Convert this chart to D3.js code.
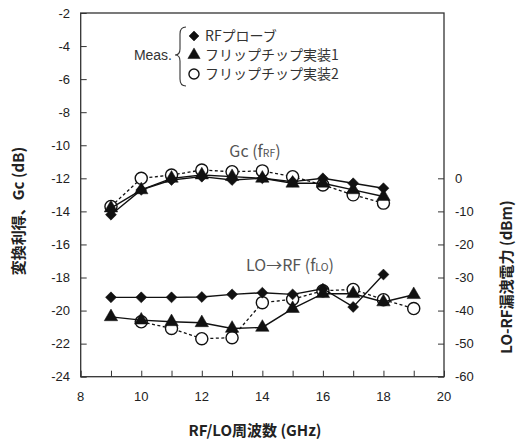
<!DOCTYPE html>
<html>
<head>
<meta charset="utf-8">
<script src="https://cdn.jsdelivr.net/npm/d3@7/dist/d3.min.js"></script>
<style>
  body { margin: 0; background: #fff; }
  text { font-family: "Liberation Sans", Arial, sans-serif; }
  .jp { font-family: "Noto Sans CJK JP", "Liberation Sans", sans-serif; }
</style>
</head>
<body>
<div id="chart"></div>
<script>
// frequencies (GHz)
let freqGc = [9, 10, 11, 12, 13, 14, 15, 16, 17, 18];
let freqLo = [9, 10, 11, 12, 13, 14, 15, 16, 17, 18, 19];

// conversion gain Gc (dB), left axis
let gcProbe = [-14.2, -12.7, -12.1, -11.9, -12.1, -12.0, -12.2, -12.0, -12.3, -12.6];
let gcFlip1 = [-13.8, -12.7, -12.0, -11.8, -11.9, -12.0, -12.3, -12.3, -12.7, -13.1];
let gcFlip2 = [-13.7, -12.0, -11.8, -11.5, -11.6, -11.55, -11.9, -12.4, -13.0, -13.5];

// LO->RF leakage (dBm), right axis (null = not measured)
let loProbe = [-36, -36, -36, -35.9, -35.1, -34.6, -35.1, -33.4, -38.9, -29.1, null];
let loFlip1 = [-41.9, -42.9, -43.4, -43.7, -45.4, -45.1, -39.4, -34.9, -34.9, -37.4, -35.2];
let loFlip2 = [null, -43.4, -45.4, -48.5, -48.2, -37.6, -36.6, -34.0, -33.6, -36.7, -39.4];

let leftTicks = [-2, -4, -6, -8, -10, -12, -14, -16, -18, -20, -22, -24];
let rightTicks = [0, -10, -20, -30, -40, -50, -60];
let xTicks = [8, 10, 12, 14, 16, 18, 20];

let legendNames = ["RFプローブ", "フリップチップ実装1", "フリップチップ実装2"];

let width = 518, height = 443;
let margin = {left: 80.7, right: 74, top: 13, bottom: 66.3};

let svg = d3.select("#chart").append("svg")
    .attr("width", width)
    .attr("height", height);

let x = d3.scaleLinear().domain([8, 20]).range([margin.left, width - margin.right]);
let yL = d3.scaleLinear().domain([-24, -2]).range([height - margin.bottom, margin.top]);
let yR = d3.scaleLinear().domain([-60, 50]).range([height - margin.bottom, margin.top]);

let ink = "#222";

// axes (ticks inward)
svg.append("g")
    .attr("transform", "translate(" + margin.left + ",0)")
    .call(d3.axisRight(yL).tickValues(leftTicks).tickSize(6).tickFormat(""))
    .call(g => g.select(".domain").remove());
svg.append("g")
    .attr("transform", "translate(" + (width - margin.right) + ",0)")
    .call(d3.axisLeft(yR).tickValues(rightTicks).tickSize(6).tickFormat(""))
    .call(g => g.select(".domain").remove());
svg.append("g")
    .attr("transform", "translate(0," + (height - margin.bottom) + ")")
    .call(d3.axisTop(x).ticks(12).tickSize(6).tickFormat(""))
    .call(g => g.select(".domain").remove());
svg.selectAll(".tick line").attr("stroke", "#333").attr("stroke-width", 1);

// frame
svg.append("rect")
    .attr("x", margin.left).attr("y", margin.top)
    .attr("width", width - margin.left - margin.right)
    .attr("height", height - margin.top - margin.bottom)
    .attr("fill", "none").attr("stroke", "#333").attr("stroke-width", 1.3);

// tick labels
svg.append("g").selectAll("text").data(leftTicks).enter().append("text")
    .attr("x", 70).attr("y", d => yL(d)).attr("dy", "0.36em")
    .attr("text-anchor", "end").attr("font-size", 13).attr("fill", ink)
    .text(d => d);
svg.append("g").selectAll("text").data(rightTicks).enter().append("text")
    .attr("x", 455).attr("y", d => yR(d)).attr("dy", "0.36em")
    .attr("font-size", 13).attr("fill", ink)
    .text(d => d);
svg.append("g").selectAll("text").data(xTicks).enter().append("text")
    .attr("x", d => x(d)).attr("y", 396).attr("dy", "0.36em")
    .attr("text-anchor", "middle").attr("font-size", 13).attr("fill", ink)
    .text(d => d);

// axis titles
svg.append("text").attr("class", "jp")
    .attr("transform", "translate(24,211) rotate(-90)")
    .attr("text-anchor", "middle").attr("font-size", 15).attr("font-weight", "bold").attr("fill", ink)
    .text("変換利得、Gc (dB)");
svg.append("text").attr("class", "jp")
    .attr("transform", "translate(512,277) rotate(-90)")
    .attr("text-anchor", "middle").attr("font-size", 15).attr("font-weight", "bold").attr("fill", ink)
    .text("LO-RF漏洩電力 (dBm)");
svg.append("text").attr("class", "jp")
    .attr("x", 255).attr("y", 436)
    .attr("text-anchor", "middle").attr("font-size", 15).attr("font-weight", "bold").attr("fill", ink)
    .text("RF/LO周波数 (GHz)");

// series
function drawSeries(xs, ys, yScale, shape, dashed) {
    let pts = xs.map((f, i) => [f, ys[i]]).filter(d => d[1] != null);
    let line = d3.line().x(d => x(d[0])).y(d => yScale(d[1]));
    svg.append("path")
        .attr("d", line(pts))
        .attr("fill", "none").attr("stroke", "#111")
        .attr("stroke-width", dashed ? 1.3 : 1.4)
        .attr("stroke-dasharray", dashed ? "3,2.5" : null);
    let sym = d3.symbol().type(shape === "diamond" ? d3.symbolSquare : shape === "triangle" ? d3.symbolTriangle : d3.symbolCircle)
        .size(shape === "diamond" ? 60 : shape === "triangle" ? 78 : 115);
    svg.append("g").selectAll("path").data(pts).enter().append("path")
        .attr("d", sym)
        .attr("transform", d => "translate(" + x(d[0]) + "," + yScale(d[1]) + ")" + (shape === "diamond" ? " rotate(45)" : ""))
        .attr("fill", shape === "circle" ? "#fff" : "#111")
        .attr("stroke", "#111").attr("stroke-width", shape === "circle" ? 1.4 : 0.5);
}

drawSeries(freqGc, gcFlip2, yL, "circle", true);
drawSeries(freqGc, gcFlip1, yL, "triangle", false);
drawSeries(freqGc, gcProbe, yL, "diamond", false);
drawSeries(freqLo, loFlip2, yR, "circle", true);
drawSeries(freqLo, loFlip1, yR, "triangle", false);
drawSeries(freqLo, loProbe, yR, "diamond", false);

// curve labels
let gcLabel = svg.append("text").attr("class", "jp")
    .attr("x", 255).attr("y", 157).attr("text-anchor", "middle")
    .attr("font-size", 16).attr("fill", "#555");
gcLabel.append("tspan").text("Gc (f");
gcLabel.append("tspan").attr("font-size", 10.5).text("RF");
gcLabel.append("tspan").text(")");

let loLabel = svg.append("text").attr("class", "jp")
    .attr("x", 290).attr("y", 271).attr("text-anchor", "middle")
    .attr("font-size", 16).attr("fill", "#555");
loLabel.append("tspan").text("LO→RF (f");
loLabel.append("tspan").attr("font-size", 10.5).text("LO");
loLabel.append("tspan").text(")");

// legend
let legendY = [36, 55, 74];
let legendShapes = [d3.symbolSquare, d3.symbolTriangle, d3.symbolCircle];
svg.append("text")
    .attr("x", 172).attr("y", 60).attr("text-anchor", "end")
    .attr("font-size", 14).attr("fill", "#333").text("Meas.");
svg.append("path")
    .attr("d", "M186,27 Q180,27 180,34 L180,49 Q180,55 175,55 Q180,55 180,61 L180,79 Q180,86 186,86")
    .attr("fill", "none").attr("stroke", "#333").attr("stroke-width", 1.1);
legendNames.forEach(function(name, i) {
    svg.append("path")
        .attr("d", d3.symbol().type(legendShapes[i]).size(i === 0 ? 50 : i === 1 ? 65 : 80))
        .attr("transform", "translate(194," + legendY[i] + ")" + (i === 0 ? " rotate(45)" : ""))
        .attr("fill", i === 2 ? "#fff" : "#111")
        .attr("stroke", "#111").attr("stroke-width", i === 2 ? 1.4 : 0.5);
    svg.append("text").attr("class", "jp")
        .attr("x", 205).attr("y", legendY[i]).attr("dy", "0.36em")
        .attr("font-size", 14).attr("fill", "#333").text(name);
});
</script>
</body>
</html>
